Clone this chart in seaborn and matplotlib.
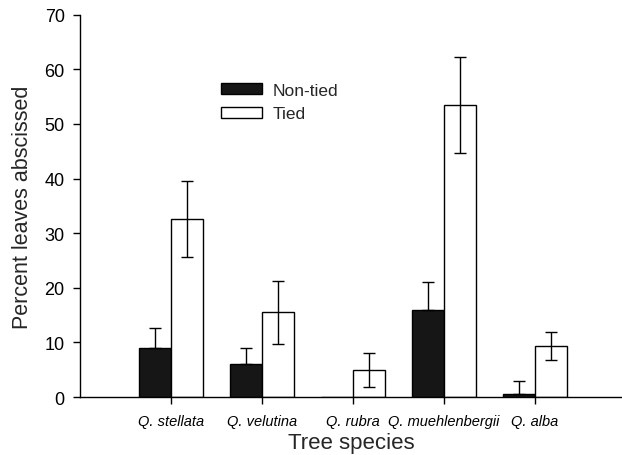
import matplotlib
matplotlib.use("Agg")
import matplotlib.pyplot as plt
import seaborn as sns
import pandas as pd
import numpy as np
from matplotlib.patches import Patch

species = ["Q. stellata", "Q. velutina", "Q. rubra", "Q. muehlenbergii", "Q. alba"]
nontied = [9.0, 6.0, 0.0, 15.9, 0.6]
nontied_se = [3.7, 3.0, np.nan, 5.1, 2.4]
tied = [32.6, 15.5, 5.0, 53.5, 9.3]
tied_se = [6.9, 5.8, 3.1, 8.8, 2.6]
groups = ["Non-tied", "Tied"]

df = pd.DataFrame({
    "species": species * 2,
    "group": [groups[0]] * len(species) + [groups[1]] * len(species),
    "value": nontied + tied,
})

sns.set_style("ticks")
plt.rcParams["font.family"] = ["Liberation Sans", "DejaVu Sans"]

fig = plt.figure(figsize=(6.22, 4.56), dpi=100)
ax = fig.add_axes([0.1286, 0.127, 0.8714, 0.8386])

sns.barplot(data=df, x="species", y="value", hue="group", order=species,
            hue_order=groups, palette=["#161616", "white"], width=0.7,
            edgecolor="black", linewidth=1.0, errorbar=None, legend=False, ax=ax)

# Non-tied: only the upper arm is visible (lower arm hidden in the black bar)
for gi, (cont, errs) in enumerate(zip(ax.containers, [nontied_se, tied_se])):
    for patch, e in zip(cont, errs):
        if np.isnan(e):
            continue
        xc = patch.get_x() + patch.get_width() / 2
        yerr = [[0], [e]] if gi == 0 else [[e], [e]]
        ax.errorbar(xc, patch.get_height(), yerr=yerr, fmt="none", ecolor="black",
                    elinewidth=1.0, capsize=4, capthick=1.0)

ax.set_xlim(-1, 4.956)
ax.set_ylim(0, 70)
ax.set_yticks(range(0, 71, 10))
ax.tick_params(axis="both", direction="out", length=5, width=1, colors="black")
ax.tick_params(axis="y", labelsize=13, pad=6)
ax.tick_params(axis="x", pad=7)
for lab in ax.get_xticklabels():
    lab.set_fontstyle("italic")
    lab.set_fontsize(10.5)
ax.set_xlabel("Tree species", fontsize=16, labelpad=3)
ax.set_ylabel("Percent leaves abscissed", fontsize=15.5, labelpad=8)
for s in ["top", "right"]:
    ax.spines[s].set_visible(False)
for s in ["left", "bottom"]:
    ax.spines[s].set_color("black")
    ax.spines[s].set_linewidth(1)

handles = [Patch(facecolor="#161616", edgecolor="black", linewidth=1, label="Non-tied"),
           Patch(facecolor="white", edgecolor="black", linewidth=1, label="Tied")]
ax.legend(handles=handles, loc="center left", bbox_to_anchor=(0.3548, 0.774),
          bbox_transform=fig.transFigure, frameon=False, fontsize=12.5,
          handlelength=2.4, handleheight=0.6, handletextpad=0.6, labelspacing=0.5,
          borderpad=0, borderaxespad=0)

fig.savefig("out.png", dpi=100)
